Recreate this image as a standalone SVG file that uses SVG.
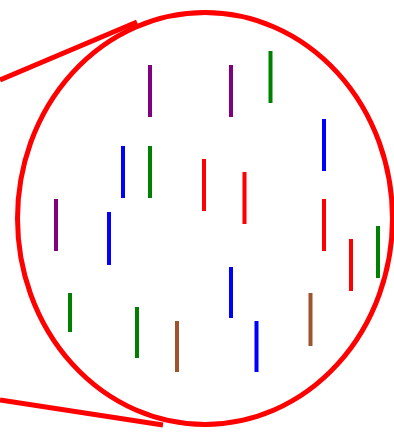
<svg xmlns="http://www.w3.org/2000/svg" width="394" height="435" viewBox="0 0 394 435">
<style>
.o{fill:none;stroke:#ff0000;stroke-width:5}
.s{stroke-width:4;stroke-linecap:butt}
.p{stroke:#800080}.b{stroke:#0000ff}.g{stroke:#008000}.r{stroke:#ff0000}.n{stroke:#a0522d}
</style>
<rect width="394" height="435" fill="#ffffff"/>
<g id="lens">
<ellipse class="o" cx="205" cy="218.5" rx="187.5" ry="206"/>
<line class="o" x1="0" y1="80" x2="137" y2="22"/>
<line class="o" x1="0" y1="400" x2="163" y2="425"/>
</g>
<g id="segments" class="s">
<line class="p" x1="150" y1="65" x2="150" y2="117"/>
<line class="p" x1="231" y1="65" x2="231" y2="117"/>
<line class="g" x1="270.5" y1="51" x2="270.5" y2="103"/>
<line class="b" x1="123" y1="146" x2="123" y2="198"/>
<line class="g" x1="150" y1="146" x2="150" y2="198"/>
<line class="b" x1="324" y1="119" x2="324" y2="171"/>
<line class="r" x1="204" y1="159" x2="204" y2="211"/>
<line class="r" x1="244.5" y1="172" x2="244.5" y2="224"/>
<line class="r" x1="324" y1="199" x2="324" y2="251"/>
<line class="p" x1="56" y1="199" x2="56" y2="251"/>
<line class="b" x1="109" y1="212" x2="109" y2="265"/>
<line class="r" x1="351" y1="239" x2="351" y2="291"/>
<line class="g" x1="378" y1="226" x2="378" y2="278"/>
<line class="b" x1="231" y1="267" x2="231" y2="318"/>
<line class="b" x1="256.5" y1="321" x2="256.5" y2="372"/>
<line class="n" x1="310.5" y1="293" x2="310.5" y2="346"/>
<line class="g" x1="70" y1="293" x2="70" y2="332"/>
<line class="g" x1="137" y1="307" x2="137" y2="358"/>
<line class="n" x1="177" y1="321" x2="177" y2="372"/>
</g>
</svg>
